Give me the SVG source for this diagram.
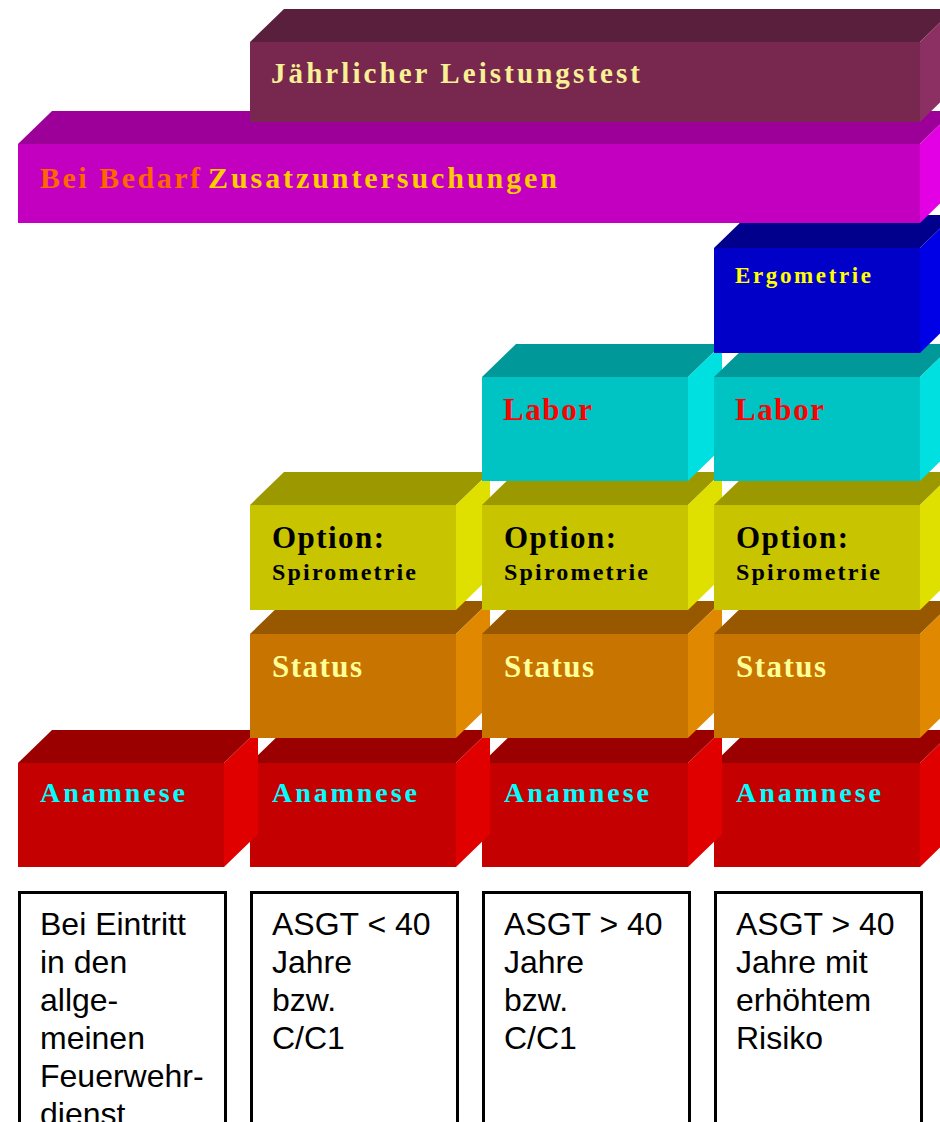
<svg xmlns="http://www.w3.org/2000/svg" width="940" height="1122" viewBox="0 0 940 1122">
<style>
.lbl{font-family:"Liberation Serif","Times New Roman",serif;font-weight:bold}
.box{fill:#ffffff;stroke:#000000;stroke-width:3}
.btxt{font-family:"Liberation Sans",Arial,sans-serif;font-size:32px;fill:#000000}
.an-f{fill:#c40000}.an-t{fill:#9a0000}.an-s{fill:#e00000}
.st-f{fill:#c87400}.st-t{fill:#985800}.st-s{fill:#e08800}
.op-f{fill:#c8c400}.op-t{fill:#9c9800}.op-s{fill:#e0e000}
.la-f{fill:#00c4c4}.la-t{fill:#009898}.la-s{fill:#00e0e0}
.er-f{fill:#0000c8}.er-t{fill:#00008c}.er-s{fill:#0000e6}
.bb-f{fill:#c400c0}.bb-t{fill:#9c0098}.bb-s{fill:#e400e4}
.jl-f{fill:#78284e}.jl-t{fill:#5a1f3c}.jl-s{fill:#8c3064}
.t-an{font-size:28px;fill:#00ffff}
.t-st{font-size:31px;fill:#ffff99}
.t-op{font-size:31px;fill:#000000}
.t-sp{font-size:24px;fill:#000000}
.t-la{font-size:31px;fill:#ff0000}
.t-er{font-size:23px;fill:#ffff00}
</style>
<rect x="0" y="0" width="940" height="1122" fill="#ffffff"/>

<!-- Anamnese row (drawn right to left) -->
<g id="anamnese-4">
<polygon class="an-t" points="714,763 748,730 954,730 920,763"/>
<polygon class="an-s" points="920,763 954,730 954,834 920,867"/>
<rect class="an-f" x="714" y="763" width="206" height="104"/>
<text class="lbl t-an" x="736" y="802" textLength="145" lengthAdjust="spacing">Anamnese</text>
</g>
<g id="anamnese-3">
<polygon class="an-t" points="482,763 516,730 722,730 688,763"/>
<polygon class="an-s" points="688,763 722,730 722,834 688,867"/>
<rect class="an-f" x="482" y="763" width="206" height="104"/>
<text class="lbl t-an" x="504" y="802" textLength="145" lengthAdjust="spacing">Anamnese</text>
</g>
<g id="anamnese-2">
<polygon class="an-t" points="250,763 284,730 490,730 456,763"/>
<polygon class="an-s" points="456,763 490,730 490,834 456,867"/>
<rect class="an-f" x="250" y="763" width="206" height="104"/>
<text class="lbl t-an" x="272" y="802" textLength="145" lengthAdjust="spacing">Anamnese</text>
</g>
<g id="anamnese-1">
<polygon class="an-t" points="18,763 52,730 258,730 224,763"/>
<polygon class="an-s" points="224,763 258,730 258,834 224,867"/>
<rect class="an-f" x="18" y="763" width="206" height="104"/>
<text class="lbl t-an" x="40" y="802" textLength="145" lengthAdjust="spacing">Anamnese</text>
</g>

<!-- Status row -->
<g id="status-2">
<polygon class="st-t" points="250,634 284,601 490,601 456,634"/>
<polygon class="st-s" points="456,634 490,601 490,705 456,738"/>
<rect class="st-f" x="250" y="634" width="206" height="104"/>
<text class="lbl t-st" x="272" y="677" textLength="90" lengthAdjust="spacing">Status</text>
</g>
<g id="status-3">
<polygon class="st-t" points="482,634 516,601 722,601 688,634"/>
<polygon class="st-s" points="688,634 722,601 722,705 688,738"/>
<rect class="st-f" x="482" y="634" width="206" height="104"/>
<text class="lbl t-st" x="504" y="677" textLength="90" lengthAdjust="spacing">Status</text>
</g>
<g id="status-4">
<polygon class="st-t" points="714,634 748,601 954,601 920,634"/>
<polygon class="st-s" points="920,634 954,601 954,705 920,738"/>
<rect class="st-f" x="714" y="634" width="206" height="104"/>
<text class="lbl t-st" x="736" y="677" textLength="90" lengthAdjust="spacing">Status</text>
</g>

<!-- Option row -->
<g id="option-2">
<polygon class="op-t" points="250,505 284,472 490,472 456,505"/>
<polygon class="op-s" points="456,505 490,472 490,577 456,610"/>
<rect class="op-f" x="250" y="505" width="206" height="105"/>
<text class="lbl t-op" x="272" y="548" textLength="112" lengthAdjust="spacing">Option:</text>
<text class="lbl t-sp" x="272" y="580" textLength="144" lengthAdjust="spacing">Spirometrie</text>
</g>
<g id="option-3">
<polygon class="op-t" points="482,505 516,472 722,472 688,505"/>
<polygon class="op-s" points="688,505 722,472 722,577 688,610"/>
<rect class="op-f" x="482" y="505" width="206" height="105"/>
<text class="lbl t-op" x="504" y="548" textLength="112" lengthAdjust="spacing">Option:</text>
<text class="lbl t-sp" x="504" y="580" textLength="144" lengthAdjust="spacing">Spirometrie</text>
</g>
<g id="option-4">
<polygon class="op-t" points="714,505 748,472 954,472 920,505"/>
<polygon class="op-s" points="920,505 954,472 954,577 920,610"/>
<rect class="op-f" x="714" y="505" width="206" height="105"/>
<text class="lbl t-op" x="736" y="548" textLength="112" lengthAdjust="spacing">Option:</text>
<text class="lbl t-sp" x="736" y="580" textLength="144" lengthAdjust="spacing">Spirometrie</text>
</g>

<!-- Labor row -->
<g id="labor-3">
<polygon class="la-t" points="482,377 516,344 722,344 688,377"/>
<polygon class="la-s" points="688,377 722,344 722,448 688,481"/>
<rect class="la-f" x="482" y="377" width="206" height="104"/>
<text class="lbl t-la" x="503" y="420" textLength="89" lengthAdjust="spacing">Labor</text>
</g>
<g id="labor-4">
<polygon class="la-t" points="714,377 748,344 954,344 920,377"/>
<polygon class="la-s" points="920,377 954,344 954,448 920,481"/>
<rect class="la-f" x="714" y="377" width="206" height="104"/>
<text class="lbl t-la" x="735" y="420" textLength="89" lengthAdjust="spacing">Labor</text>
</g>

<!-- Ergometrie -->
<g id="ergometrie">
<polygon class="er-t" points="714,248 748,215 954,215 920,248"/>
<polygon class="er-s" points="920,248 954,215 954,320 920,353"/>
<rect class="er-f" x="714" y="248" width="206" height="105"/>
<text class="lbl t-er" x="735" y="283" textLength="136" lengthAdjust="spacing">Ergometrie</text>
</g>

<!-- Bei Bedarf bar -->
<g id="zusatz">
<polygon class="bb-t" points="18,144 52,111 954,111 920,144"/>
<polygon class="bb-s" points="920,144 954,111 954,190 920,223"/>
<rect class="bb-f" x="18" y="144" width="902" height="79"/>
<text class="lbl" x="40" y="188" font-size="30" fill="#ff6600" textLength="160" lengthAdjust="spacing">Bei Bedarf</text>
<text class="lbl" x="208" y="188" font-size="30" fill="#ffcc00" textLength="349" lengthAdjust="spacing">Zusatzuntersuchungen</text>
</g>

<!-- Jaehrlicher Leistungstest bar -->
<g id="leistungstest">
<polygon class="jl-t" points="250,42 284,9 954,9 920,42"/>
<polygon class="jl-s" points="920,42 954,9 954,89 920,122"/>
<rect class="jl-f" x="250" y="42" width="670" height="80"/>
<text class="lbl" x="271" y="83" font-size="29" fill="#f8f094" textLength="369" lengthAdjust="spacing">Jährlicher Leistungstest</text>
</g>

<!-- Bottom description boxes -->
<g id="box-1">
<rect class="box" x="19.5" y="892.5" width="206" height="260"/>
<text class="btxt" x="40" y="935">Bei Eintritt</text>
<text class="btxt" x="40" y="973">in den</text>
<text class="btxt" x="40" y="1011">allge-</text>
<text class="btxt" x="40" y="1049">meinen</text>
<text class="btxt" x="40" y="1087">Feuerwehr-</text>
<text class="btxt" x="40" y="1125">dienst</text>
</g>
<g id="box-2">
<rect class="box" x="251.5" y="892.5" width="206" height="260"/>
<text class="btxt" x="272" y="935">ASGT &lt; 40</text>
<text class="btxt" x="272" y="973">Jahre</text>
<text class="btxt" x="272" y="1011">bzw.</text>
<text class="btxt" x="272" y="1049">C/C1</text>
</g>
<g id="box-3">
<rect class="box" x="483.5" y="892.5" width="206" height="260"/>
<text class="btxt" x="504" y="935">ASGT &gt; 40</text>
<text class="btxt" x="504" y="973">Jahre</text>
<text class="btxt" x="504" y="1011">bzw.</text>
<text class="btxt" x="504" y="1049">C/C1</text>
</g>
<g id="box-4">
<rect class="box" x="715.5" y="892.5" width="206" height="260"/>
<text class="btxt" x="736" y="935">ASGT &gt; 40</text>
<text class="btxt" x="736" y="973">Jahre mit</text>
<text class="btxt" x="736" y="1011">erhöhtem</text>
<text class="btxt" x="736" y="1049">Risiko</text>
</g>
<g id="connectors"/>
</svg>
